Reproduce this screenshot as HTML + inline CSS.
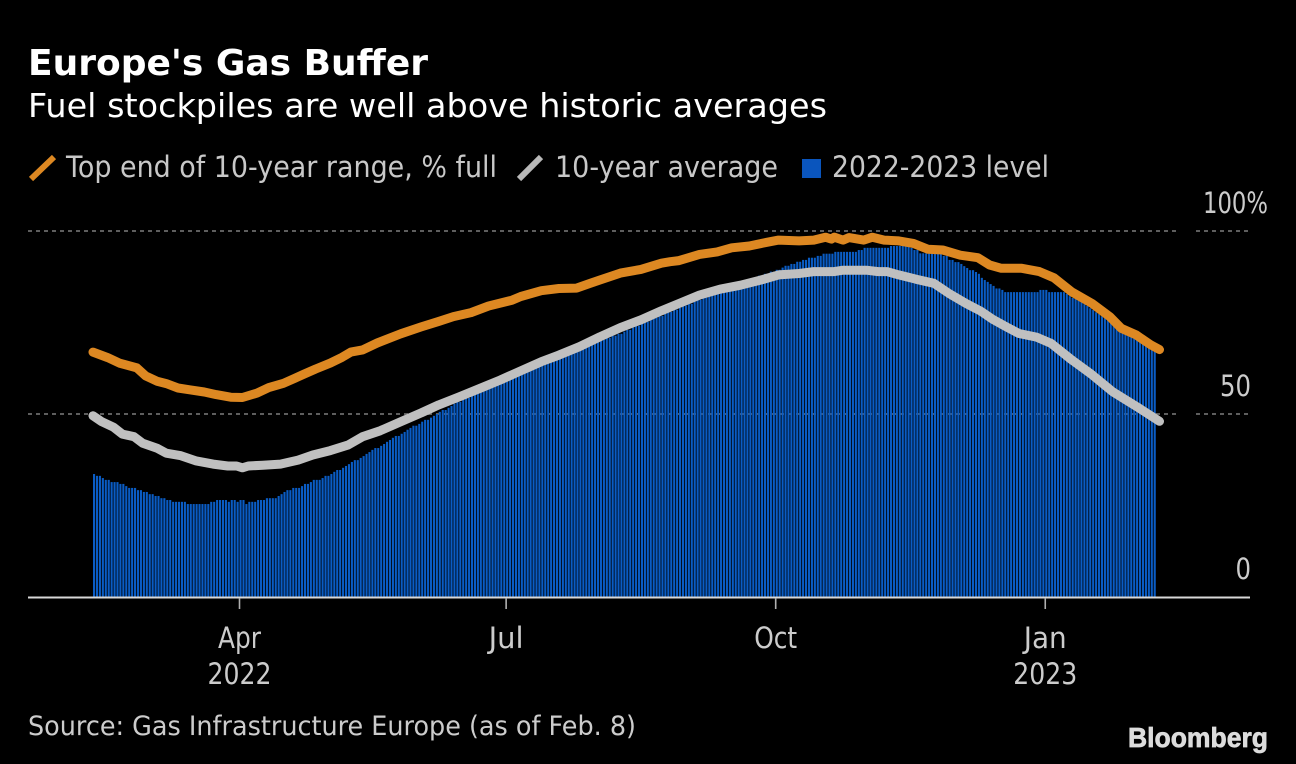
<!DOCTYPE html>
<html lang="en">
<head>
<meta charset="utf-8">
<title>Europe's Gas Buffer</title>
<style>
html,body{margin:0;padding:0;background:#000;width:1296px;height:764px;overflow:hidden}
svg{display:block}
text{font-family:"DejaVu Sans","Liberation Sans",sans-serif}
</style>
</head>
<body>
<svg id="chart" width="1296" height="764" viewBox="0 0 1296 764" xmlns="http://www.w3.org/2000/svg">
<rect x="0" y="0" width="1296" height="764" fill="#000"/>
<text x="28" y="75" font-size="36" font-weight="700" fill="#fff" textLength="400" lengthAdjust="spacingAndGlyphs">Europe's Gas Buffer</text>
<text x="28" y="117" font-size="33" fill="#fff" textLength="799" lengthAdjust="spacingAndGlyphs">Fuel stockpiles are well above historic averages</text>
<g>
<line x1="31" y1="179" x2="54" y2="157" stroke="#dd8822" stroke-width="6"/>
<text x="66" y="177" font-size="29" fill="#c8c8c8" textLength="431" lengthAdjust="spacingAndGlyphs">Top end of 10-year range, % full</text>
<line x1="519" y1="179" x2="541" y2="157" stroke="#b9b9b9" stroke-width="6"/>
<text x="555" y="177" font-size="29" fill="#c8c8c8" textLength="223" lengthAdjust="spacingAndGlyphs">10-year average</text>
<rect x="802" y="159" width="19" height="19" fill="#0a55bd"/>
<text x="832" y="177" font-size="29" fill="#c8c8c8" textLength="217" lengthAdjust="spacingAndGlyphs">2022-2023 level</text>
</g>
<g id="grid"></g>
<g id="bars"></g>
<g id="axis"></g>
<g id="ylabels"></g>
<path id="topLine" fill="none" stroke="#dd8822" stroke-width="9" stroke-linecap="round" stroke-linejoin="round"/>
<path id="avgLine" fill="none" stroke="#c0c0c0" stroke-width="9" stroke-linecap="round" stroke-linejoin="round"/>
<text x="28" y="735" font-size="27" fill="#cccccc" textLength="608" lengthAdjust="spacingAndGlyphs">Source: Gas Infrastructure Europe (as of Feb. 8)</text>
<text x="1128" y="747" font-size="28" font-weight="700" fill="#dcdcdc" stroke="#dcdcdc" stroke-width="0.7" textLength="140" lengthAdjust="spacingAndGlyphs" style="font-family:'Liberation Sans',sans-serif">Bloomberg</text>
</svg>
<script>
const storageLevel = [
33.6,33.1,33.1,32.5,32.0,32.0,31.4,31.4,31.4,30.9,30.9,30.3,29.8,29.8,29.8,29.2,29.2,28.7,28.7,28.1,28.1,27.6,27.6,27.0,27.0,26.5,26.5,26.0,26.0,26.0,26.0,26.0,25.4,25.4,25.4,25.4,25.4,25.4,25.4,25.4,26.0,26.0,26.5,26.5,26.5,26.5,26.0,
26.5,26.5,26.0,26.5,26.5,25.4,26.0,26.0,26.0,26.5,26.5,26.5,27.0,27.0,27.0,27.0,27.6,28.1,28.7,29.2,29.2,29.8,29.8,29.8,30.3,30.9,30.9,31.4,32.0,32.0,32.0,32.5,33.1,33.1,33.6,34.2,34.7,34.7,35.3,35.8,36.3,36.9,37.4,37.4,38.0,38.5,39.1,39.6,40.2,40.7,40.7,41.3,41.8,42.4,42.9,43.5,44.0,44.0,44.6,45.1,45.7,46.2,46.8,46.8,47.3,47.9,48.4,48.4,49.0,49.5,
50.0,50.6,51.1,51.1,51.7,52.2,52.8,53.3,53.3,53.9,54.4,54.4,55.0,55.5,56.0,56.0,56.6,57.1,57.1,57.7,58.2,58.8,58.8,59.3,59.9,59.9,60.4,60.4,61.0,61.5,61.5,62.1,62.6,62.6,63.2,63.7,64.3,64.3,64.8,64.8,
65.4,65.4,65.4,65.9,65.9,66.5,66.5,67.0,67.6,67.6,68.1,68.1,68.7,69.2,69.2,69.8,70.3,70.3,70.8,70.8,71.4,71.4,71.9,71.9,72.5,73.0,73.0,73.6,74.1,74.1,74.7,75.2,75.2,75.8,76.3,76.3,76.8,76.8,77.4,77.9,77.9,78.5,78.5,79.0,79.6,79.6,80.1,80.1,80.7,81.2,81.2,81.8,81.8,82.3,82.9,82.9,83.4,83.4,83.9,84.5,84.5,85.0,85.0,85.6,85.6,86.1,86.7,86.7,87.2,87.2,87.8,87.8,88.3,88.3,88.9,88.9,89.4,89.4,90.0,90.5,90.5,91.0,91.0,91.6,91.6,92.1,92.1,92.7,92.7,92.7,93.2,93.2,93.8,93.8,93.8,93.8,94.3,94.3,94.3,94.3,94.3,94.3,94.3,94.3,94.8,94.8,
95.4,95.4,95.4,95.4,95.4,95.4,95.4,95.4,95.4,95.9,95.9,95.9,95.9,95.9,95.9,95.9,95.4,94.8,94.8,93.9,93.9,93.9,93.9,93.9,93.9,93.9,93.9,93.2,93.2,92.1,92.1,91.5,91.5,91.0,90.4,89.9,89.3,89.3,88.8,88.3,87.2,86.6,86.1,85.5,85.0,84.3,84.3,83.9,
83.3,83.3,83.3,83.3,83.3,83.3,83.3,83.3,83.3,83.3,83.3,83.3,83.9,83.9,83.9,83.3,83.3,83.3,83.3,83.3,83.3,82.8,82.2,81.7,81.7,81.1,80.6,80.0,79.5,78.9,78.4,77.8,77.3,76.7,76.2,75.6,75.1,74.5,74.0,73.4,72.9,72.3,71.8,71.2,70.7,70.2,70.2,69.6,69.1,68.5,68.0,67.4
];
const topDays = [0,5,9,15,18,22,25,29,33,38,42,47,51,56,60,65,69,72,76,81,85,88,92,97,105,112,118,123,129,135,143,146,153,159,165,170,173,180,187,194,197,200,207,213,218,224,230,234,241,246,250,252,253,256,258,263,266,270,275,280,285,290,296,302,306,310,317,323,328,334,341,347,351,356,361,364];
const topValues = [66.9,65.4,63.9,62.6,60.4,58.9,58.3,57.1,56.6,56.0,55.3,54.6,54.5,55.7,57.2,58.4,59.8,60.9,62.3,63.9,65.5,66.9,67.5,69.4,71.9,73.8,75.3,76.6,77.7,79.5,81.1,82.1,83.7,84.3,84.4,85.8,86.6,88.5,89.5,91.2,91.6,91.9,93.6,94.3,95.4,95.9,96.9,97.5,97.3,97.5,98.3,97.8,98.3,97.5,98.2,97.5,98.3,97.5,97.3,96.6,95.0,94.8,93.4,92.7,90.7,89.8,89.8,88.9,87.2,83.4,80.2,76.6,73.4,71.6,68.9,67.6];
const avgDays = [0,3,7,10,14,17,22,25,30,35,41,46,49,51,53,58,64,70,75,81,87,92,98,105,112,118,125,132,139,146,153,159,166,173,180,187,194,200,207,214,221,228,234,241,246,253,256,264,268,271,275,281,287,292,298,303,307,312,316,322,327,334,341,348,357,364];
const avgValues = [49.5,47.9,46.4,44.5,43.8,42.0,40.6,39.3,38.6,37.2,36.3,35.8,35.8,35.3,35.8,36.0,36.3,37.4,38.8,40.0,41.5,43.8,45.4,47.9,50.3,52.5,54.7,57.0,59.3,61.8,64.3,66.1,68.4,71.1,73.6,75.7,78.2,80.2,82.5,84.1,85.2,86.6,88.0,88.4,88.9,88.9,89.3,89.3,88.9,88.9,88.0,86.8,85.7,83.0,80.2,78.1,75.9,73.7,72.0,71.0,69.3,64.8,60.7,56.1,51.6,48.0];
const monthTickDays = [50,141,233,325];
const monthTickLabels = ['Apr','Jul','Oct','Jan'];
const yearTickDays = [50,325];
const yearTickLabels = ['2022','2023'];
const gridValues = [100,50];
const yTickValues = [100,50,0];
const yTickLabels = ['100%','50','0'];

const NS = 'http://www.w3.org/2000/svg';
function xScale(d){ return 93 + d * 2.93; }
function yScale(v){ return 597 - v * 3.66; }
function make(tag, attrs, parent, txt){
  const el = document.createElementNS(NS, tag);
  for (const k in attrs) el.setAttribute(k, attrs[k]);
  if (txt !== undefined) el.textContent = txt;
  parent.appendChild(el);
  return el;
}

const gridG = document.getElementById('grid');
gridValues.forEach(function(v){
  const left = make('line', {x1:28, x2:1177, y1:yScale(v), y2:yScale(v), stroke:'#5e5e5e', 'stroke-width':2, 'stroke-dasharray':'4 4'}, gridG);
  
  
  const right = make('line', {x1:1196, x2:1249, y1:yScale(v), y2:yScale(v), stroke:'#5e5e5e', 'stroke-width':2, 'stroke-dasharray':'4 4'}, gridG);
  
  
});

const barsG = document.getElementById('bars');
storageLevel.forEach(function(v, i){
  const bar = make('rect', {x:xScale(i), y:yScale(v), width:2.1, height:597 - yScale(v), fill:'#0a5cc4'}, barsG);
  
  
});

const axisG = document.getElementById('axis');
const baseline = make('line', {x1:28, x2:1250, y1:597.5, y2:597.5, stroke:'#d8d8d8', 'stroke-width':2}, axisG);


monthTickDays.forEach(function(d, i){
  const tick = make('line', {x1:xScale(d), x2:xScale(d), y1:598, y2:609, stroke:'#b0b0b0', 'stroke-width':1.6}, axisG);
  
  
  const label = make('text', {x:xScale(d), y:648, 'text-anchor':'middle', 'font-size':29, fill:'#cccccc'}, axisG, monthTickLabels[i]);
  
  
  const natural = label.getComputedTextLength();
  if (natural > 43) {
    label.setAttribute('textLength', 43);
    label.setAttribute('lengthAdjust', 'spacingAndGlyphs');
  }
});
yearTickDays.forEach(function(d, i){
  const label = make('text', {x:xScale(d), y:684, 'text-anchor':'middle', 'font-size':29, fill:'#cccccc', textLength:64, lengthAdjust:'spacingAndGlyphs'}, axisG, yearTickLabels[i]);
  
  
});

const yG = document.getElementById('ylabels');
yTickValues.forEach(function(v, i){
  const text = yTickLabels[i];
  const isTop = text.indexOf('%') >= 0;
  const label = make('text', {x:isTop ? 1268 : 1251, y:yScale(v) - 18, 'text-anchor':'end', 'font-size':29, fill:'#cccccc', textLength:isTop ? 65 : 15.5 * text.length, lengthAdjust:'spacingAndGlyphs'}, yG, text);
  
  
});

function linePath(days, vals){
  return days.map(function(d, i){
    return (i ? 'L' : 'M') + xScale(d).toFixed(1) + ' ' + yScale(vals[i]).toFixed(1);
  }).join('');
}
document.getElementById('topLine').setAttribute('d', linePath(topDays, topValues));
document.getElementById('avgLine').setAttribute('d', linePath(avgDays, avgValues));
</script>
</body>
</html>
